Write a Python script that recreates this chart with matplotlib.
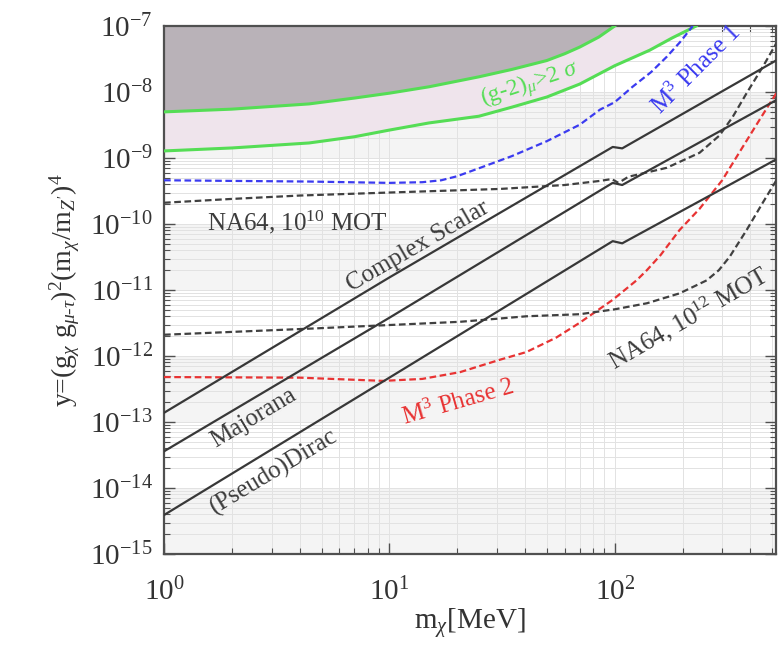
import numpy as np
import matplotlib
matplotlib.use("Agg")
import matplotlib.pyplot as plt

plt.rcParams['font.family'] = ['Liberation Serif', 'DejaVu Serif']
plt.rcParams['mathtext.fontset'] = 'custom'
plt.rcParams['mathtext.rm'] = 'Liberation Serif'
plt.rcParams['mathtext.it'] = 'Liberation Serif:italic'
plt.rcParams['mathtext.bf'] = 'Liberation Serif:bold'
plt.rcParams['axes.unicode_minus'] = False

# (g-2)_mu 2 sigma band, edges
g2_hi_x = [1, 2, 4.4, 7, 10, 15, 25, 35, 50, 60, 70, 85, 100]
g2_hi_y = [5e-9, 5.5e-9, 6.6e-9, 8.1e-9, 9.6e-9, 1.2e-8, 1.7e-8, 2.2e-8, 3.0e-8, 3.8e-8,
           4.8e-8, 6.8e-8, 1e-7]
g2_lo_x = [1, 2, 4.4, 7, 10, 15, 25, 35, 50, 70, 100, 143, 180, 230]
g2_lo_y = [1.28e-9, 1.42e-9, 1.69e-9, 2.1e-9, 2.65e-9, 3.4e-9, 4.3e-9, 5.9e-9, 8.4e-9,
           1.32e-8, 2.5e-8, 4.3e-8, 6.6e-8, 1e-7]

# M3 phase 1 / phase 2
m3p1_x = [1, 2, 4.4, 10, 14, 17, 20, 25, 35, 50, 70, 86, 100, 120, 145, 170, 195, 222]
m3p1_y = [4.6e-10, 4.5e-10, 4.4e-10, 4.2e-10, 4.3e-10, 4.6e-10, 5.3e-10, 7e-10, 1.07e-9,
          1.8e-9, 3.2e-9, 5.4e-9, 7e-9, 1.2e-8, 2.0e-8, 3.4e-8, 5.7e-8, 1e-7]
m3p2_x = [1, 4, 9.4, 14, 20.6, 31, 40.6, 55, 70, 98, 125, 139, 160, 194, 238, 300, 370,
          426, 472, 522]
m3p2_y = [4.8e-13, 4.7e-13, 4.2e-13, 4.5e-13, 5.7e-13, 8.8e-13, 1.15e-12, 1.9e-12, 3.2e-12,
          7.1e-12, 1.4e-11, 2e-11, 3.4e-11, 8.1e-11, 1.7e-10, 4.6e-10, 1.47e-9, 3.2e-9,
          5.6e-9, 9.6e-9]

# NA64 projections
na10_x = [1, 2, 4, 10, 31, 60, 86, 97, 104, 115, 170, 238, 292, 334, 385, 454, 522]
na10_y = [2.1e-10, 2.4e-10, 2.7e-10, 3.0e-10, 3.4e-10, 3.9e-10, 4.5e-10, 4.8e-10, 4.2e-10,
          5.2e-10, 7.1e-10, 1.2e-9, 2.2e-9, 4.2e-9, 9.6e-9, 2.4e-8, 5.5e-8]
na12_x = [1, 4.45, 20.6, 40.6, 70, 100, 139, 194, 256, 290, 324, 385, 454, 522]
na12_y = [2.1e-12, 2.6e-12, 3.3e-12, 4e-12, 4.3e-12, 5.1e-12, 6.3e-12, 8.9e-12, 1.4e-11,
          2e-11, 3.2e-11, 8.1e-11, 2.1e-10, 4.6e-10]

# thermal targets
dm_x = [1, 10, 98, 108, 520]
scalar_y = [1.38e-13, 1.55e-11, 1.47e-9, 1.40e-9, 3.0e-8]
majorana_y = [3.6e-14, 3.8e-12, 4.2e-10, 3.9e-10, 7.5e-9]
dirac_y = [3.9e-15, 4.7e-13, 5.5e-11, 5.1e-11, 9.5e-10]

fig = plt.figure(figsize=(7.8, 6.47), dpi=100)
ax = fig.add_axes([0.2103, 0.1437, 0.7846, 0.8161])
ax.set_xscale('log')
ax.set_yscale('log')
ax.set_xlim(1, 520)
ax.set_ylim(1e-15, 1e-7)

# light bands per decade
for k in [-15, -13, -11, -9]:
    ax.axhspan(10.0**k, 10.0**(k + 1), color='#f4f4f4', lw=0, zorder=0)
ax.grid(which='both', color='#e2e2e2', lw=0.7, zorder=0.5)
ax.set_axisbelow(True)

# excluded / favoured regions
ax.fill(g2_hi_x + [1], g2_hi_y + [1e-7], color='#b9b2b8', lw=0, zorder=1)
ax.fill(g2_lo_x + g2_hi_x[::-1], g2_lo_y + g2_hi_y[::-1], color='#efe4ec', lw=0, zorder=1)
ax.plot(g2_hi_x, g2_hi_y, color='#55dd55', lw=2.2, zorder=3)
ax.plot(g2_lo_x, g2_lo_y, color='#55dd55', lw=2.2, zorder=3)

dash = (3.0, 1.6)
ax.plot(m3p1_x, m3p1_y, color='#3b3bf0', lw=1.6, dashes=dash, zorder=3)
ax.plot(m3p2_x, m3p2_y, color='#e83333', lw=1.6, dashes=dash, zorder=3)
ax.plot(na10_x, na10_y, color='#404040', lw=1.6, dashes=dash, zorder=3)
ax.plot(na12_x, na12_y, color='#404040', lw=1.6, dashes=dash, zorder=3)

for yy in [scalar_y, majorana_y, dirac_y]:
    ax.plot(dm_x, yy, color='#383838', lw=1.6, zorder=3)

# labels inside the plot, placed in pixel coords of the 780x647 picture
def lab(px, py, s, rot, color='#3c3c3c', fs=18):
    fig.text(px / 780, 1 - py / 647, s, rotation=rot, color=color, fontsize=fs,
             ha='center', va='center', rotation_mode='anchor')

lab(297, 222, r'NA64, 10$^{10}$ MOT', 0)
lab(418, 246, 'Complex Scalar', 30)
lab(254, 418, 'Majorana', 31)
lab(274, 472, '(Pseudo)Dirac', 31)
lab(688, 318, r'NA64, 10$^{12}$ MOT', 30)
lab(458, 402, r'M$^3$ Phase 2', 16, color='#e83333')
lab(696, 70, r'M$^3$ Phase 1', 45, color='#3b3bf0')
lab(530, 85, r'(g-2)$_\mu$>2 $\sigma$', 18, color='#55dd55', fs=17)

for s in ax.spines.values():
    s.set_color('#505050')
    s.set_linewidth(1.6)
ax.tick_params(which='both', direction='in', top=True, right=True, colors='#505050',
               labelcolor='#333333', labelsize=21)
ax.tick_params(which='major', length=8, width=1.0, pad=8)
ax.tick_params(which='minor', length=4, width=0.8)
ax.tick_params(axis='x', which='major', pad=17)
ax.yaxis.set_major_locator(matplotlib.ticker.LogLocator(base=10, numticks=20))
ax.yaxis.set_minor_locator(matplotlib.ticker.LogLocator(base=10, subs=np.arange(2, 10), numticks=20))
ax.yaxis.set_minor_formatter(matplotlib.ticker.NullFormatter())

ax.set_xlabel(r'm$_\chi$[MeV]', fontsize=21, color='#333333', labelpad=0)
ax.set_ylabel(r"y=(g$_\chi$ g$_{\mu\text{-}\tau}$)$^2$(m$_\chi$/m$_{Z'}$)$^4$", fontsize=20,
              color='#333333', labelpad=6)

fig.savefig('out.png', dpi=100)
